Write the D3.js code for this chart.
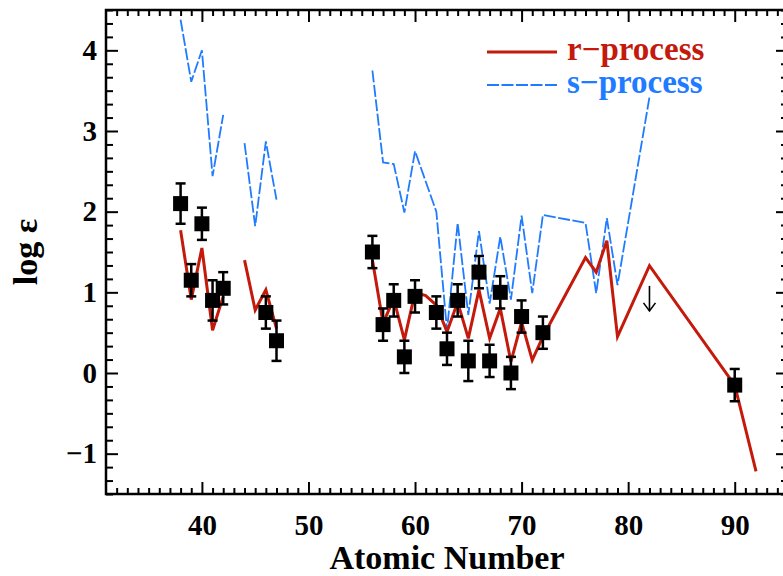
<!DOCTYPE html>
<html>
<head>
<meta charset="utf-8">
<script src="https://cdn.jsdelivr.net/npm/d3@7"></script>
<style>
  html, body { margin: 0; padding: 0; background: #fff; }
  svg { display: block; }
  text { font-family: "Liberation Serif", "Times New Roman", serif; font-weight: bold; }
</style>
</head>
<body>
<svg id="chart" width="783" height="576"></svg>
<script>
// ---- Data ----
const obsZ   = [38, 39, 40, 41, 42, 46, 47, 56, 57, 58, 59, 60, 62, 63, 64, 65, 66, 67, 68, 69, 70, 72, 90];
const obsVal = [2.10, 1.15, 1.85, 0.90, 1.05, 0.75, 0.40, 1.50, 0.60, 0.90, 0.20, 0.95, 0.75, 0.30, 0.90, 0.15, 1.25, 0.15, 1.00, 0.00, 0.70, 0.50, -0.15];
const obsErr = [0.25, 0.20, 0.20, 0.25, 0.20, 0.20, 0.25, 0.20, 0.20, 0.20, 0.20, 0.20, 0.20, 0.20, 0.20, 0.25, 0.20, 0.20, 0.20, 0.20, 0.20, 0.20, 0.20];

const limZ   = [82];
const limVal = [1.08];

const rZ   = [38, 39, 40, 41, 42, 43, 44, 45, 46, 47, 48, 56, 57, 58, 59, 60, 61, 62, 63, 64, 65, 66, 67, 68, 69, 70, 71, 72, 76, 77, 78, 79, 82, 90, 92];
const rVal = [1.77, 0.91, 1.55, 0.53, 0.95, null, 1.40, 0.78, 1.03, 0.55, null, 1.40, 0.62, 0.92, 0.41, 1.00, 0.96, 0.84, 0.51, 0.88, 0.43, 1.03, 0.43, 0.80, 0.14, 0.63, 0.16, 0.45, 1.43, 1.25, 1.64, 0.45, 1.33, -0.15, -1.22];

const sZ   = [38, 39, 40, 41, 42, 43, 44, 45, 46, 47, 48, 56, 57, 58, 59, 60, 62, 63, 64, 65, 66, 67, 68, 69, 70, 71, 72, 76, 77, 78, 79, 82];
const sVal = [4.38, 3.61, 4.00, 2.44, 3.20, null, 2.85, 1.82, 2.87, 2.15, null, 3.75, 2.61, 2.59, 1.99, 2.75, 2.00, 0.53, 1.86, 0.72, 1.76, 0.86, 1.69, 0.91, 1.95, 0.99, 1.96, 1.86, 0.99, 1.92, 1.09, 3.42];

const xTicks = [40, 50, 60, 70, 80, 90];
const yTicks = [-1, 0, 1, 2, 3, 4];
const legendLabels = ["r\u2212process", "s\u2212process"];
const xTitle = "Atomic Number";
const yTitle = "log \u03b5";

// ---- Layout ----
const L = 106, R = 788, T = 10, B = 494;
const red = "#c41a0c", blue = "#1f7bff";

const svg = d3.select("#chart");
const x = d3.scaleLinear().domain([31, 95]).range([L, R]);
const y = d3.scaleLinear().domain([-1.5, 4.5]).range([B, T]);

const xMinor = d3.range(32, 95).filter(v => v % 10 !== 0);
const yMinor = d3.range(-9, 28).map(k => k / 6).filter(v => Math.abs(v - Math.round(v)) > 1e-6);

function styleAxis(g, w) {
  g.select(".domain").remove();
  g.selectAll(".tick line").attr("stroke", "#000").attr("stroke-width", w);
  g.selectAll(".tick text").attr("fill", "#000").attr("font-size", 29)
    .attr("font-family", "'Liberation Serif', 'Times New Roman', serif").attr("font-weight", "bold");
}

// bottom axis
svg.append("g").attr("transform", `translate(0,${B})`)
  .call(d3.axisBottom(x).tickValues(xTicks).tickSizeInner(-12).tickSizeOuter(0).tickPadding(20).tickFormat(d3.format("d")))
  .call(g => styleAxis(g, 2));
svg.append("g").attr("transform", `translate(0,${B})`)
  .call(d3.axisBottom(x).tickValues(xMinor).tickSizeInner(-6).tickSizeOuter(0).tickFormat(""))
  .call(g => styleAxis(g, 2));
// top axis
svg.append("g").attr("transform", `translate(0,${T})`)
  .call(d3.axisTop(x).tickValues(xTicks).tickSizeInner(-12).tickSizeOuter(0).tickFormat(""))
  .call(g => styleAxis(g, 2));
svg.append("g").attr("transform", `translate(0,${T})`)
  .call(d3.axisTop(x).tickValues(xMinor).tickSizeInner(-6).tickSizeOuter(0).tickFormat(""))
  .call(g => styleAxis(g, 2));
// left axis
svg.append("g").attr("transform", `translate(${L},0)`)
  .call(d3.axisLeft(y).tickValues(yTicks).tickSizeInner(-12).tickSizeOuter(0).tickPadding(9)
    .tickFormat(d => d < 0 ? "\u2212" + Math.abs(d) : String(d)))
  .call(g => styleAxis(g, 2));
svg.append("g").attr("transform", `translate(${L},0)`)
  .call(d3.axisLeft(y).tickValues(yMinor).tickSizeInner(-7).tickSizeOuter(0).tickFormat(""))
  .call(g => styleAxis(g, 2));
// right axis
svg.append("g").attr("transform", `translate(${R},0)`)
  .call(d3.axisRight(y).tickValues(yTicks).tickSizeInner(-12).tickSizeOuter(0).tickFormat(""))
  .call(g => styleAxis(g, 2));
svg.append("g").attr("transform", `translate(${R},0)`)
  .call(d3.axisRight(y).tickValues(yMinor).tickSizeInner(-7).tickSizeOuter(0).tickFormat(""))
  .call(g => styleAxis(g, 2));

// frame
svg.append("rect").attr("x", L).attr("y", T).attr("width", R - L).attr("height", B - T)
  .attr("fill", "none").attr("stroke", "#000").attr("stroke-width", 2.5);

// ---- Lines ----
const line = d3.line().defined(d => d[1] !== null).x(d => x(d[0])).y(d => y(d[1]));
const sData = sZ.map((z, i) => [z, sVal[i]]);
const rData = rZ.map((z, i) => [z, rVal[i]]);

svg.append("path").attr("d", line(sData)).attr("fill", "none")
  .attr("stroke", blue).attr("stroke-width", 1.8).attr("stroke-dasharray", "12,2.5")
  .attr("stroke-linejoin", "miter");
svg.append("path").attr("d", line(rData)).attr("fill", "none")
  .attr("stroke", red).attr("stroke-width", 3).attr("stroke-linejoin", "miter");

// ---- Observed points ----
const obs = obsZ.map((z, i) => ({ z, v: obsVal[i], e: obsErr[i] }));
const eg = svg.append("g").attr("stroke", "#000").attr("stroke-width", 2.5);
obs.forEach(d => {
  const cx = x(d.z);
  eg.append("line").attr("x1", cx).attr("x2", cx).attr("y1", y(d.v - d.e)).attr("y2", y(d.v + d.e));
  eg.append("line").attr("x1", cx - 5).attr("x2", cx + 5).attr("y1", y(d.v - d.e)).attr("y2", y(d.v - d.e));
  eg.append("line").attr("x1", cx - 5).attr("x2", cx + 5).attr("y1", y(d.v + d.e)).attr("y2", y(d.v + d.e));
});
svg.append("g").selectAll("rect").data(obs).join("rect")
  .attr("x", d => x(d.z) - 7.5).attr("y", d => y(d.v) - 7.5)
  .attr("width", 15).attr("height", 15).attr("fill", "#000");

// ---- Upper limit arrow ----
limZ.forEach((z, i) => {
  const cx = x(z), y0 = y(limVal[i]), y1 = y0 + 25;
  const g = svg.append("g").attr("stroke", "#000").attr("stroke-width", 1.6).attr("fill", "none");
  g.append("line").attr("x1", cx).attr("x2", cx).attr("y1", y0).attr("y2", y1);
  g.append("path").attr("d", `M${cx - 6},${y1 - 8} L${cx},${y1} L${cx + 6},${y1 - 8}`);
});

// ---- Legend ----
const lg = svg.append("g");
[[red, null, 3], [blue, "12,2.5", 1.8]].forEach((s, i) => {
  const ly = 52 + i * 33;
  lg.append("line").attr("x1", 487).attr("x2", 557).attr("y1", ly).attr("y2", ly)
    .attr("stroke", s[0]).attr("stroke-width", s[2]).attr("stroke-dasharray", s[1]);
  lg.append("text").attr("x", 567).attr("y", ly + 8).attr("fill", s[0])
    .attr("font-size", 33).text(legendLabels[i]);
});

// ---- Titles ----
svg.append("text").attr("x", (L + R) / 2).attr("y", 569).attr("text-anchor", "middle")
  .attr("font-size", 34).attr("fill", "#000").text(xTitle);
svg.append("text").attr("transform", `translate(37,${(T + B) / 2}) rotate(-90)`)
  .attr("text-anchor", "middle").attr("font-size", 34).attr("fill", "#000").text(yTitle);
</script>
</body>
</html>
